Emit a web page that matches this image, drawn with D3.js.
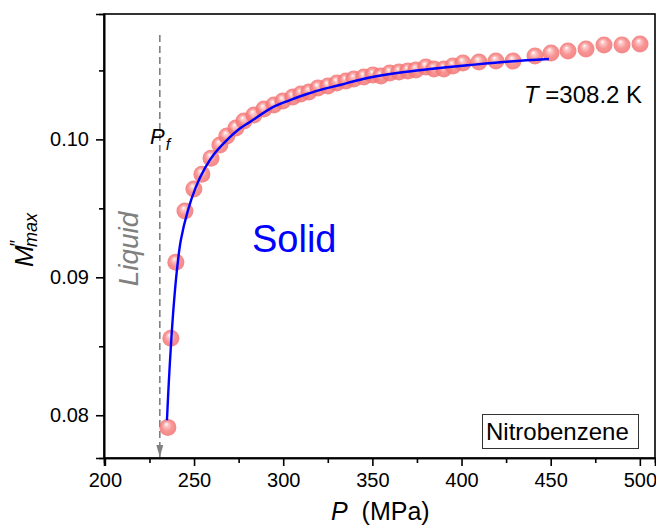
<!DOCTYPE html>
<html>
<head>
<meta charset="utf-8">
<script src="https://cdn.jsdelivr.net/npm/d3@7"></script>
<style>
  html, body { margin: 0; padding: 0; background: #fff; }
  svg text { font-family: "Liberation Sans", Arial, sans-serif; }
</style>
</head>
<body>
<svg id="chart" width="656" height="531"></svg>
<script>
// Measured M''max peak values of nitrobenzene versus pressure at 308.2 K
const pressure = [235.3, 237.0, 239.8, 244.9, 249.9, 254.4, 259.5, 264.5, 268.4, 273.5,
  278.0, 283.6, 289.2, 294.8, 299.8, 305.4, 309.9, 314.4, 319.5, 325.1,
  330.1, 335.2, 339.6, 345.2, 350.3, 354.8, 359.8, 364.9, 369.9, 374.4,
  380.0, 384.5, 390.1, 395.2, 400.8, 409.8, 419.3, 428.9, 441.2, 450.2,
  459.7, 469.8, 479.9, 490.0, 500.1];
const mMax = [0.07912, 0.08558, 0.09110, 0.09480, 0.09640, 0.09748, 0.09864, 0.09959, 0.10024, 0.10082,
  0.10133, 0.10176, 0.10220, 0.10249, 0.10278, 0.10307, 0.10329, 0.10343, 0.10372, 0.10387,
  0.10409, 0.10423, 0.10438, 0.10452, 0.10467, 0.10459, 0.10481, 0.10488, 0.10496, 0.10503,
  0.10525, 0.10510, 0.10510, 0.10532, 0.10554, 0.10561, 0.10568, 0.10568, 0.10605, 0.10627,
  0.10641, 0.10656, 0.10685, 0.10685, 0.10692];

// Fitted curve through the solid-phase data
const fitPressure = [234.8, 235.9, 237.3, 238.7, 240.4, 242.6, 246.6, 251.0, 256.1, 261.7,
  268.4, 274.6, 281.3, 294.2, 303.8, 313.3, 322.3, 331.8, 344.7, 363.8,
  382.3, 404.7, 427.1, 449.0];
const fitM = [0.07964, 0.08254, 0.08559, 0.08813, 0.09052, 0.09270, 0.09487, 0.09654, 0.09792, 0.09901,
  0.09995, 0.10068, 0.10126, 0.10234, 0.10285, 0.10329, 0.10365, 0.10394, 0.10438, 0.10481,
  0.10510, 0.10539, 0.10565, 0.10583];

// Freezing pressure marker
const freezingPressure = 230.8;
const freezingTop = 0.10757;

const xTicks = [200, 250, 300, 350, 400, 450, 500];
const xMinorTicks = [225, 275, 325, 375, 425, 475];
const yTicks = [0.08, 0.09, 0.10];
const yMinorTicks = [0.085, 0.095, 0.105];

const svg = d3.select("#chart");
const plotLeft = 104, plotRight = 655, plotTop = 14, plotBottom = 458;

const x = d3.scaleLinear().domain([199.5, 508.5]).range([plotLeft, plotRight]);
const y = d3.scaleLinear().domain([0.0769, 0.10909]).range([plotBottom, plotTop]);

// Sphere gradient for markers
const defs = svg.append("defs");
const grad = defs.append("radialGradient")
  .attr("id", "sphere").attr("cx", "50%").attr("cy", "50%").attr("r", "50%")
  .attr("fx", "40%").attr("fy", "30%");
grad.append("stop").attr("offset", "0%").attr("stop-color", "#ffffff");
grad.append("stop").attr("offset", "22%").attr("stop-color", "#fbc0c0");
grad.append("stop").attr("offset", "60%").attr("stop-color", "#f78282");
grad.append("stop").attr("offset", "100%").attr("stop-color", "#f27272");

// Frame
svg.append("rect")
  .attr("x", plotLeft).attr("y", plotTop)
  .attr("width", plotRight - plotLeft).attr("height", plotBottom - plotTop)
  .attr("fill", "none").attr("stroke", "#000").attr("stroke-width", 1.6);

// Axes
const xAxis = d3.axisBottom(x).tickValues(xTicks).tickSize(8).tickPadding(7)
  .tickFormat(d3.format("d"));
const gx = svg.append("g").attr("transform", `translate(0,${plotBottom})`).call(xAxis);
const gxm = svg.append("g").attr("transform", `translate(0,${plotBottom})`)
  .call(d3.axisBottom(x).tickValues(xMinorTicks).tickSize(5).tickFormat(""));

const yAxis = d3.axisLeft(y).tickValues(yTicks).tickSize(8).tickPadding(7)
  .tickFormat(d3.format(".2f"));
const gy = svg.append("g").attr("transform", `translate(${plotLeft},0)`).call(yAxis);
const gym = svg.append("g").attr("transform", `translate(${plotLeft},0)`)
  .call(d3.axisLeft(y).tickValues(yMinorTicks).tickSize(5).tickFormat(""));

[gx, gxm, gy, gym].forEach(g => {
  g.select(".domain").attr("stroke", "#000").attr("stroke-width", 1.6);
  g.selectAll(".tick line").attr("stroke", "#000").attr("stroke-width", 1.6);
  g.selectAll(".tick text").attr("fill", "#000")
    .style("font-size", "20px").style("font-family", "'Liberation Sans', Arial, sans-serif");
});

// Freezing-pressure guide with arrowhead
defs.append("marker").attr("id", "arrow").attr("viewBox", "0 0 12 7")
  .attr("refX", 12).attr("refY", 3.5).attr("markerWidth", 12).attr("markerHeight", 7)
  .attr("orient", "auto").attr("markerUnits", "userSpaceOnUse")
  .append("path").attr("d", "M0,0 L12,3.5 L0,7 z").attr("fill", "#808080");

svg.append("line")
  .attr("x1", x(freezingPressure)).attr("x2", x(freezingPressure))
  .attr("y1", y(freezingTop)).attr("y2", plotBottom - 1)
  .attr("stroke", "#808080").attr("stroke-width", 1.6)
  .attr("stroke-dasharray", "7,4")
  .attr("marker-end", "url(#arrow)");

// Data markers
const pts = pressure.map((p, i) => ({ p, m: mMax[i] }));
svg.append("g").selectAll("circle").data(pts).join("circle")
  .attr("cx", d => x(d.p)).attr("cy", d => y(d.m)).attr("r", 8.5)
  .attr("fill", "url(#sphere)").attr("fill-opacity", 0.85);

// Fit line
const fit = fitPressure.map((p, i) => ({ p, m: fitM[i] }));
svg.append("path").datum(fit)
  .attr("d", d3.line().x(d => x(d.p)).y(d => y(d.m)).curve(d3.curveCatmullRom.alpha(0.5)))
  .attr("fill", "none").attr("stroke", "#0000ff").attr("stroke-width", 2.4);

// Annotations
const pf = svg.append("text").attr("x", 150).attr("y", 144).style("font-size", "22px");
pf.append("tspan").text("P").style("font-style", "italic");
pf.append("tspan").text("f").style("font-style", "italic").style("font-size", "16px")
  .attr("dx", 1).attr("dy", 6);

svg.append("text")
  .attr("transform", "translate(138,249) rotate(-90)")
  .attr("text-anchor", "middle")
  .style("font-size", "28px").style("font-style", "italic").attr("fill", "#808080")
  .text("Liquid");

svg.append("text").attr("x", 252).attr("y", 252)
  .style("font-size", "38px").attr("fill", "#0000ff").text("Solid");

const tl = svg.append("text").attr("x", 524).attr("y", 103).style("font-size", "24px");
tl.append("tspan").text("T").style("font-style", "italic");
tl.append("tspan").text(" =308.2 K");

// Sample label box
svg.append("rect").attr("x", 482.5).attr("y", 414.5).attr("width", 156).attr("height", 34)
  .attr("fill", "#fff").attr("stroke", "#333").attr("stroke-width", 1);
svg.append("text").attr("x", 486).attr("y", 440).style("font-size", "24px").text("Nitrobenzene");

// Axis titles
const xt = svg.append("text").attr("x", 331).attr("y", 520).style("font-size", "25px")
  .style("white-space", "pre");
xt.append("tspan").text("P").style("font-style", "italic");
xt.append("tspan").text("  (MPa)");

const yt = svg.append("text").attr("transform", "translate(33,267) rotate(-90)")
  .style("font-size", "26px");
yt.append("tspan").text("M").style("font-style", "italic");
yt.append("tspan").text("″").style("font-size", "18px").attr("dx", -1).attr("dy", -10);
yt.append("tspan").text("max").style("font-style", "italic").style("font-size", "18px")
  .attr("dx", -7).attr("dy", 14);
</script>
</body>
</html>
